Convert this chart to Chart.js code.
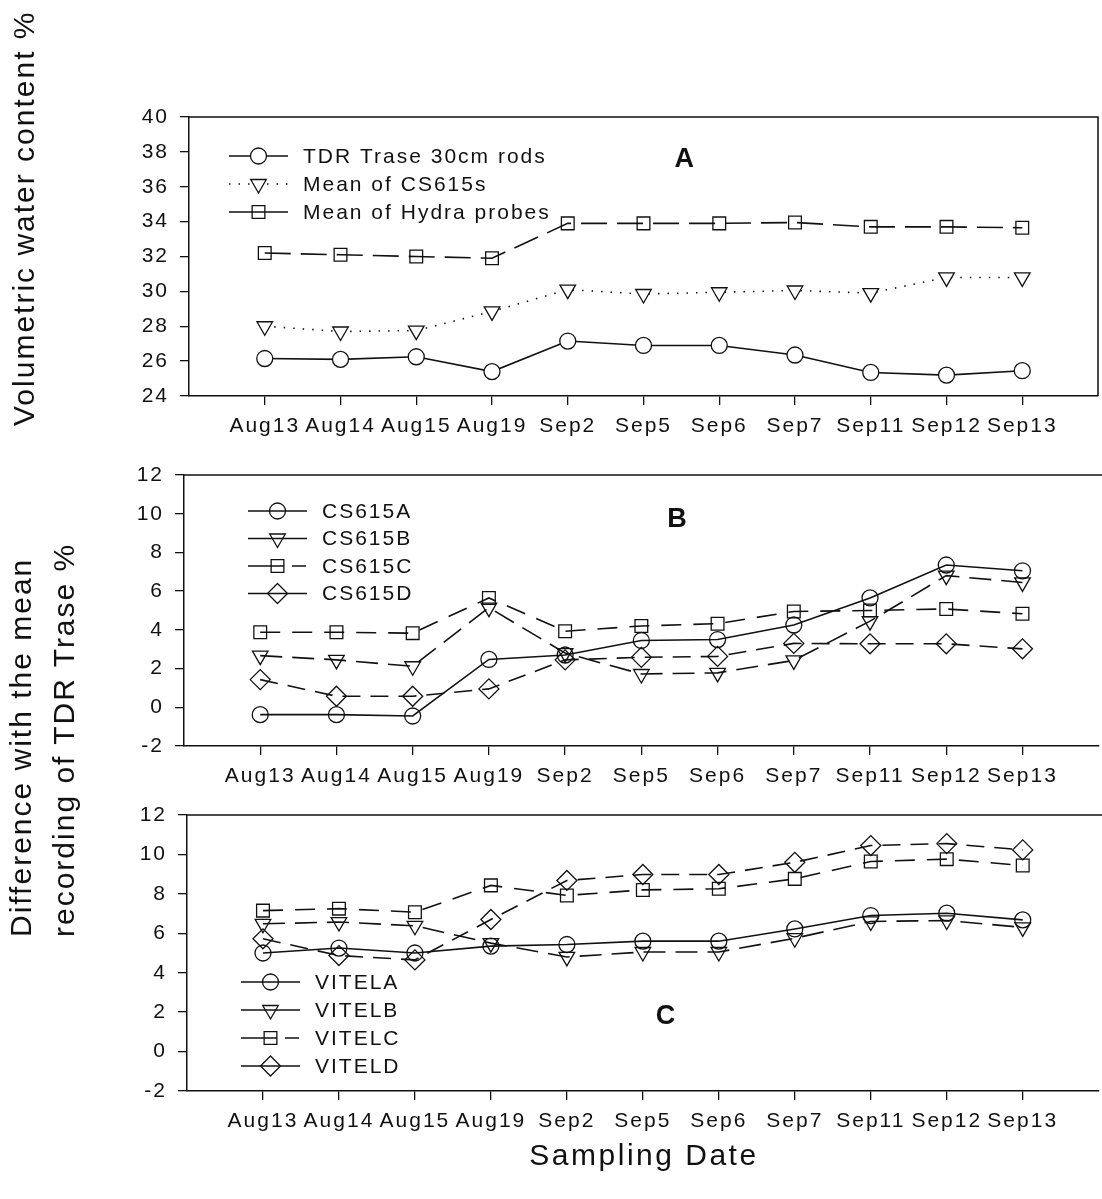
<!DOCTYPE html>
<html>
<head>
<meta charset="utf-8">
<script src="https://cdn.jsdelivr.net/npm/chart.js@4.4.1/dist/chart.umd.min.js"></script>
<style>
  html, body { margin: 0; padding: 0; background: #fff; }
  body { width: 1102px; height: 1199px; overflow: hidden; position: relative;
         font-family: 'Liberation Sans', Arial, sans-serif; color: #111; }
  canvas { position: absolute; left: 0; }
  .vtitle { position: absolute; transform-origin: 0 0; transform: rotate(-90deg);
            white-space: nowrap; font-size: 30px; line-height: 30px; letter-spacing: 2px; }
  #xtitle { position: absolute; left: 444px; width: 400px; top: 1140px; text-align: center;
            font-size: 30px; line-height: 30px; letter-spacing: 2.5px; }
</style>
</head>
<body>
<canvas id="panelA" width="1110" height="460" style="top:0px"></canvas>
<canvas id="panelB" width="1110" height="360" style="top:440px"></canvas>
<canvas id="panelC" width="1110" height="360" style="top:790px"></canvas>

<div class="vtitle" style="left:9px; top:426px;">Volumetric water content %</div>
<div class="vtitle" style="left:6px; top:937px;">Difference with the mean</div>
<div class="vtitle" style="left:49px; top:937px;">recording of TDR Trase %</div>
<div id="xtitle">Sampling Date</div>

<script>
// sampling dates (x categories)
const dates = ['Aug13', 'Aug14', 'Aug15', 'Aug19', 'Sep2', 'Sep5', 'Sep6', 'Sep7', 'Sep11', 'Sep12', 'Sep13'];

// panel A - volumetric water content %
const tdrTrase  = [26.15, 26.1, 26.25, 25.4, 27.15, 26.9, 26.9, 26.35, 25.35, 25.2, 25.45];
const meanCS615 = [28.0, 27.7, 27.75, 28.85, 30.1, 29.85, 29.95, 30.05, 29.9, 30.8, 30.8];
const meanHydra = [32.2, 32.1, 32.0, 31.9, 33.9, 33.9, 33.9, 33.95, 33.7, 33.7, 33.65];

// panel B - CS615 minus TDR
const cs615A = [-0.38, -0.38, -0.45, 2.47, 2.7, 3.45, 3.5, 4.25, 5.65, 7.35, 7.05];
const cs615B = [2.67, 2.45, 2.12, 5.15, 2.8, 1.72, 1.78, 2.42, 4.45, 6.8, 6.45];
const cs615C = [3.88, 3.88, 3.83, 5.65, 3.93, 4.2, 4.32, 4.95, 5.0, 5.08, 4.83];
const cs615D = [1.43, 0.57, 0.57, 0.95, 2.45, 2.58, 2.63, 3.3, 3.28, 3.28, 3.02];

// panel C - VITEL minus TDR
const vitelA = [5.0, 5.25, 5.0, 5.35, 5.43, 5.6, 5.6, 6.22, 6.9, 7.02, 6.68];
const vitelB = [6.48, 6.57, 6.38, 5.5, 4.8, 5.05, 5.05, 5.75, 6.6, 6.65, 6.3];
const vitelC = [7.15, 7.25, 7.07, 8.43, 7.92, 8.2, 8.26, 8.76, 9.64, 9.76, 9.44];
const vitelD = [5.72, 4.87, 4.65, 6.7, 8.68, 8.98, 8.98, 9.6, 10.45, 10.55, 10.23];

// y tick ranges
const yTicksA = { min: 24, max: 40, step: 2 };
const yTicksBC = { min: -2, max: 12, step: 2 };

const INK = '#111';
const FONT = "'Liberation Sans', Arial, sans-serif";

function pts(arr) {
  return arr.map((v, i) => ({ x: i, y: v }));
}

function series(label, arr, style, dash, legendDash, fill) {
  const radius = { circle: 8, triangle: 9, rect: 9, rectRot: 10 }[style];
  return {
    label: label,
    data: pts(arr),
    borderColor: INK,
    borderWidth: 1.6,
    borderDash: dash,
    legendDash: legendDash,
    pointStyle: style,
    pointRotation: style === 'triangle' ? 180 : 0,
    pointRadius: radius,
    pointBorderWidth: 1.3,
    pointBorderColor: INK,
    pointBackgroundColor: fill || 'rgba(0,0,0,0)',
    tension: 0,
    fill: false
  };
}

function drawMarker(ctx, ds, x, y) {
  const r = ds.pointRadius;
  ctx.save();
  ctx.setLineDash([]);
  ctx.lineWidth = ds.pointBorderWidth;
  ctx.strokeStyle = INK;
  ctx.fillStyle = ds.pointBackgroundColor;
  ctx.beginPath();
  if (ds.pointStyle === 'circle') {
    ctx.arc(x, y, r, 0, Math.PI * 2);
  } else if (ds.pointStyle === 'triangle') {
    ctx.moveTo(x - r * 0.866, y - r * 0.5);
    ctx.lineTo(x + r * 0.866, y - r * 0.5);
    ctx.lineTo(x, y + r);
    ctx.closePath();
  } else if (ds.pointStyle === 'rect') {
    const s = r * Math.SQRT1_2;
    ctx.rect(x - s, y - s, 2 * s, 2 * s);
  } else {
    ctx.moveTo(x, y - r);
    ctx.lineTo(x + r, y);
    ctx.lineTo(x, y + r);
    ctx.lineTo(x - r, y);
    ctx.closePath();
  }
  ctx.fill();
  ctx.stroke();
  ctx.restore();
}

// frame, hand-made legend and panel letter
const decor = {
  id: 'decor',
  beforeDraw(chart) {
    chart.ctx.letterSpacing = '2px';
  },
  afterDraw(chart, args, opts) {
    const ctx = chart.ctx;
    const a = chart.chartArea;
    ctx.save();
    ctx.strokeStyle = INK;
    ctx.lineWidth = 1.5;
    ctx.beginPath();
    ctx.moveTo(a.left, a.top);
    ctx.lineTo(opts.frameRight ? a.right : chart.width, a.top);
    if (opts.frameRight) ctx.lineTo(a.right, a.bottom);
    ctx.stroke();

    // legend
    chart.data.datasets.forEach((ds, i) => {
      const y = a.top + opts.legendTop + i * opts.rowGap;
      const x0 = a.left + opts.legendLeft;
      ctx.save();
      ctx.strokeStyle = INK;
      ctx.lineWidth = 1.5;
      ctx.setLineDash(ds.legendDash || []);
      ctx.beginPath();
      ctx.moveTo(x0, y);
      ctx.lineTo(x0 + 59, y);
      ctx.stroke();
      ctx.restore();
      drawMarker(ctx, ds, x0 + 29.5, y);
      ctx.fillStyle = INK;
      ctx.font = '21px ' + FONT;
      ctx.textAlign = 'left';
      ctx.textBaseline = 'middle';
      ctx.fillText(ds.label, x0 + 74, y + 1);
    });

    // panel letter
    const lx = chart.scales.x.getPixelForValue(opts.letterX);
    const ly = chart.scales.y.getPixelForValue(opts.letterY);
    ctx.fillStyle = INK;
    ctx.font = 'bold 27px ' + FONT;
    ctx.textAlign = 'center';
    ctx.textBaseline = 'middle';
    ctx.fillText(opts.letter, lx, ly);
    ctx.restore();
  }
};

function makePanel(id, datasets, yr, layout, deco) {
  return new Chart(document.getElementById(id), {
    type: 'line',
    data: { datasets: datasets },
    plugins: [decor],
    options: {
      responsive: false,
      animation: false,
      layout: { padding: { top: layout.top, right: layout.right, left: 0, bottom: 0 } },
      plugins: { legend: { display: false }, tooltip: { enabled: false }, decor: deco },
      scales: {
        x: {
          type: 'linear',
          min: -1,
          max: 11,
          afterBuildTicks: s => { s.ticks = dates.map((d, i) => ({ value: i })); },
          afterFit: s => { s.height = layout.xh; },
          ticks: {
            autoSkip: false, maxRotation: 0, padding: 9, color: INK,
            font: { family: FONT, size: 21 },
            callback: v => dates[v] !== undefined ? dates[v] : ''
          },
          grid: { drawOnChartArea: false, drawTicks: true, tickLength: 9, color: INK, lineWidth: 1.3 },
          border: { display: true, color: INK, width: 1.5 }
        },
        y: {
          min: yr.min,
          max: yr.max,
          afterFit: s => { s.width = layout.yw; },
          ticks: {
            stepSize: yr.step, padding: 11, color: INK,
            font: { family: FONT, size: 21 }
          },
          grid: { drawOnChartArea: false, drawTicks: true, tickLength: 9, color: INK, lineWidth: 1.3 },
          border: { display: true, color: INK, width: 1.5 }
        }
      }
    }
  });
}

makePanel('panelA', [
  series('TDR Trase 30cm rods', tdrTrase, 'circle', [], [], '#fff'),
  series('Mean of CS615s', meanCS615, 'triangle', [1.5, 8], [1.5, 8], '#fff'),
  series('Mean of Hydra probes', meanHydra, 'rect', [26, 10], [])
], yTicksA, { top: 117, right: 12, xh: 64, yw: 189 },
  { frameRight: true, legendLeft: 40, legendTop: 39, rowGap: 28, letter: 'A', letterX: 5.55, letterY: 37.55 });

makePanel('panelB', [
  series('CS615A', cs615A, 'circle', [], []),
  series('CS615B', cs615B, 'triangle', [22, 10], []),
  series('CS615C', cs615C, 'rect', [20, 12], [36, 8, 14, 100]),
  series('CS615D', cs615D, 'rectRot', [18, 10], [])
], yTicksBC, { top: 35, right: 6, xh: 54, yw: 184 },
  { frameRight: false, legendLeft: 64, legendTop: 36, rowGap: 27.5, letter: 'B', letterX: 5.48, letterY: 9.7 });

makePanel('panelC', [
  series('VITELA', vitelA, 'circle', [], []),
  series('VITELB', vitelB, 'triangle', [22, 10], []),
  series('VITELC', vitelC, 'rect', [20, 12], [36, 8, 14, 100]),
  series('VITELD', vitelD, 'rectRot', [18, 10], [])
], yTicksBC, { top: 25, right: 2, xh: 59, yw: 187 },
  { frameRight: false, legendLeft: 54, legendTop: 167, rowGap: 28, letter: 'C', letterX: 5.31, letterY: 1.76 });
</script>
</body>
</html>
